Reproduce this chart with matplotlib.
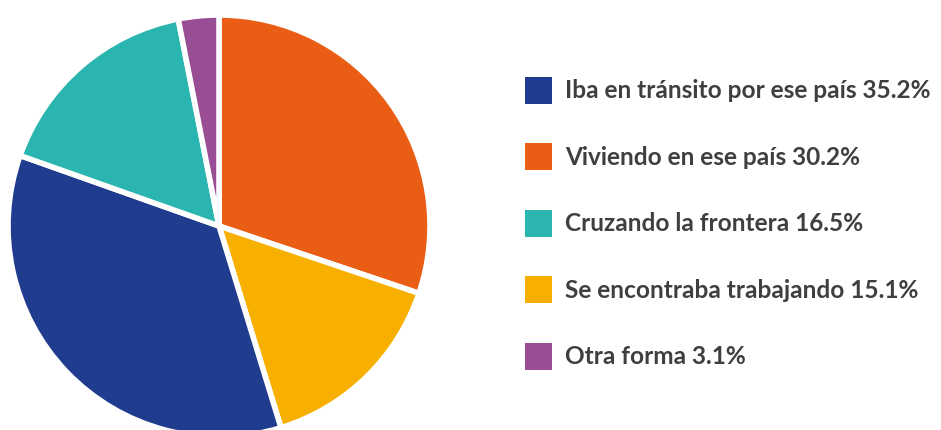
import matplotlib
matplotlib.use("Agg")
import matplotlib.pyplot as plt
from matplotlib.patches import Rectangle

# Data (pie order clockwise from 12 o'clock)
pie_labels = ["Viviendo en ese país", "Se encontraba trabajando", "Iba en tránsito por ese país",
              "Cruzando la frontera", "Otra forma"]
pie_values = [30.2, 15.1, 35.2, 16.5, 3.1]
pie_colors = ["#E95D14", "#F7B000", "#1F3C8E", "#2BB5B0", "#994D94"]

# Legend order
legend_labels = ["Iba en tránsito por ese país 35.2%", "Viviendo en ese país 30.2%",
                 "Cruzando la frontera 16.5%", "Se encontraba trabajando 15.1%", "Otra forma 3.1%"]
legend_colors = ["#1F3C8E", "#E95D14", "#2BB5B0", "#F7B000", "#994D94"]

W, H = 941, 431
fig = plt.figure(figsize=(W / 100, H / 100), dpi=100)

cx, cy, r = 219, 227, 211
ax = fig.add_axes([(cx - r) / W, (H - cy - r) / H, 2 * r / W, 2 * r / H])
ax.pie(pie_values, colors=pie_colors, startangle=90, counterclock=False,
       wedgeprops=dict(edgecolor="white", linewidth=4), radius=1.0)
ax.set_xlim(-1, 1)
ax.set_ylim(-1, 1)
ax.set_aspect("equal")
ax.axis("off")

y0, dy = 91, 66.5
for i, (lab, col) in enumerate(zip(legend_labels, legend_colors)):
    yc = y0 + i * dy
    fig.add_artist(Rectangle(((525) / W, (H - yc - 13.5) / H), 27 / W, 27 / H,
                             transform=fig.transFigure, facecolor=col, edgecolor="none"))
    fig.text(565 / W, (H - yc) / H, lab, fontsize=17.6, fontweight="bold",
             family=["Lato", "DejaVu Sans"], color="#3F3F3F", va="center", ha="left")

fig.savefig("out.png", dpi=100, facecolor="white")
